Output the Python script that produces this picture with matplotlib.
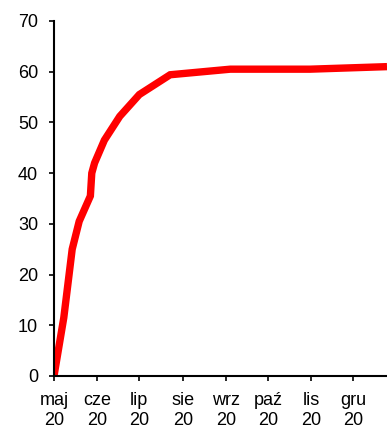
import matplotlib
matplotlib.use("Agg")
import matplotlib.pyplot as plt
import datetime as dt

dates = ["2020-05-01", "2020-05-08", "2020-05-14", "2020-05-19", "2020-05-27",
         "2020-05-28", "2020-05-30", "2020-06-06", "2020-06-17", "2020-07-01",
         "2020-07-23", "2020-09-04", "2020-10-31", "2020-12-25"]
values = [0, 11.5, 25, 30.5, 35.5, 40, 42, 46.5, 51.2, 55.5, 59.4, 60.5, 60.5, 61.0]

tick_dates = ["2020-05-01", "2020-06-01", "2020-07-01", "2020-08-01",
              "2020-09-01", "2020-10-01", "2020-11-01", "2020-12-01"]
tick_labels = ["maj\n20", "cze\n20", "lip\n20", "sie\n20", "wrz\n20", "paź\n20", "lis\n20", "gru\n20"]
y_ticks = [0, 10, 20, 30, 40, 50, 60, 70]

plt.rcParams['font.family'] = ['Liberation Sans', 'DejaVu Sans']

x = [dt.datetime.strptime(d, "%Y-%m-%d") for d in dates]
xt = [dt.datetime.strptime(d, "%Y-%m-%d") for d in tick_dates]

fig = plt.figure(figsize=(3.87, 4.25), dpi=100)
ax = fig.add_axes([54/387, 49/425, 1 - 54/387, (376-21)/425])
ax.plot(x, values, color="#ff0000", lw=5.3, solid_joinstyle="miter", solid_capstyle="butt")
ax.set_xlim(x[0], x[-1])
ax.set_ylim(0, 70)
ax.set_yticks(y_ticks)
ax.set_xticks(xt)
ax.set_xticklabels(tick_labels)
for s in ["top", "right"]:
    ax.spines[s].set_visible(False)
for s in ["left", "bottom"]:
    ax.spines[s].set_linewidth(1.5)
ax.tick_params(axis="y", length=3.5, width=1.2, labelsize=13, pad=8)
ax.tick_params(axis="x", length=3.5, width=1.2, labelsize=13, pad=8)
for t in ax.get_xticklabels():
    t.set_linespacing(1.25)
fig.savefig("out.png", dpi=100)
